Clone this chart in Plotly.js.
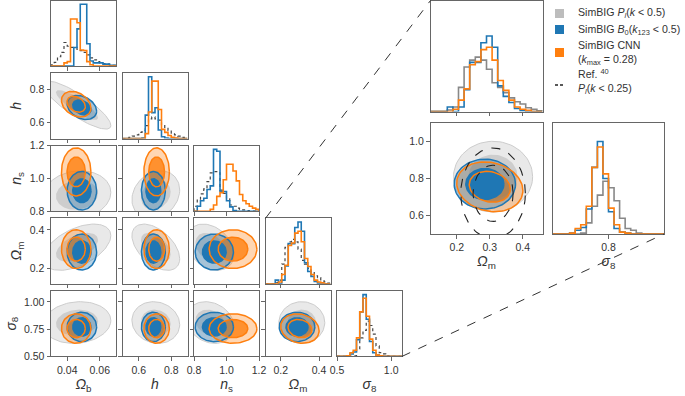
<!DOCTYPE html>
<html><head><meta charset="utf-8">
<script src="https://cdn.plot.ly/plotly-3.0.1.min.js"></script>
<style>html,body{margin:0;padding:0;background:#fff;} #chart{width:685px;height:396px;}</style>
</head><body><div id="chart"></div>
<script>
// ---------------- data ----------------
const paramTitles = ["<i>Ω</i><sub>b</sub>", "<i>h</i>", "<i>n</i><sub>s</sub>", "<i>Ω</i><sub>m</sub>", "<i>σ</i><sub>8</sub>"];
const paramRanges = [[0.03,0.07],[0.5,0.9],[0.8,1.2],[0.12,0.46],[0.5,1.1]];
const xTickVals = [[0.04,0.06],[0.6,0.8],[0.8,1.0,1.2],[0.2,0.4],[0.5,1.0]];
const xTickText = [["0.04","0.06"],["0.6","0.8"],["0.8","1.0","1.2"],["0.2","0.4"],["0.5","1.0"]];
const yTickVals = [[],[0.6,0.8],[0.8,1.0,1.2],[0.2,0.4],[0.5,0.75,1.0]];
const yTickText = [[],["0.6","0.8"],["0.8","1.0","1.2"],["0.2","0.4"],["0.50","0.75","1.00"]];
const insetOmXTicks = [0.2,0.3,0.4], insetOmXText = ["0.2","0.3","0.4"];
const insetS8YTicks = [0.6,0.8,1.0], insetS8YText = ["0.6","0.8","1.0"];
const insetS8XTicks = [0.8], insetS8XText = ["0.8"];

const seriesNames = [
  "SimBIG <i>P</i><sub><i>l</i></sub>(<i>k</i> &lt; 0.5)",
  "SimBIG <i>B</i><sub>0</sub>(<i>k</i><sub>123</sub> &lt; 0.5)",
  "SimBIG CNN<br>(<i>k</i><sub>max</sub> = 0.28)",
  "Ref. <sup>40</sup><br><i>P</i><sub><i>l</i></sub>(<i>k</i> &lt; 0.25)"
];

// Gaussian summaries of the posteriors (mean, sigma, correlation) per parameter
const grayMean  = [0.046, 0.705, 0.90, 0.31, 0.81];
const graySigma = [0.0085, 0.06, 0.06, 0.049, 0.078];
const grayCorr  = [
  [1, -0.85, 0.1, 0.5, 0.1],
  [-0.85, 1, 0.2, -0.5, -0.1],
  [0.1, 0.2, 1, -0.3, -0.2],
  [0.5, -0.5, -0.3, 1, 0.0],
  [0.1, -0.1, -0.2, 0.0, 1]];
const blueMean  = [0.049, 0.69, 0.925, 0.285, 0.77];
const blueSigma = [0.0037, 0.03, 0.048, 0.038, 0.055];
const blueCorr  = [
  [1, -0.3, 0, 0, 0],
  [-0.3, 1, 0, 0, 0],
  [0, 0, 1, 0, 0],
  [0, 0, 0, 1, 0],
  [0, 0, 0, 0, 1]];
const orangeMean  = [0.0455, 0.71, 1.04, 0.30, 0.755];
const orangeSigma = [0.0037, 0.032, 0.06, 0.041, 0.055];
const orangeCorr  = [
  [1, -0.3, 0, 0, 0],
  [-0.3, 1, 0, 0, 0],
  [0, 0, 1, 0, 0],
  [0, 0, 0, 1, -0.15],
  [0, 0, 0, -0.15, 1]];
const refMean  = [0.31, 0.72];   // Omega_m, sigma_8
const refSigma = [0.04, 0.10];
const refCorr  = 0.0;
const contourLevels = [1.52, 2.45]; // 68% and 95% radii

// 1D histograms (20 bins over each parameter range), heights relative to blue peak
const grayHist = [
  [0.02,0.06,0.15,0.22,0.38,0.32,0.3,0.3,0.27,0.25,0.22,0.18,0.13,0.1,0.07,0.05,0.04,0.03,0.02,0.01],
  [0,0.01,0.02,0.04,0.06,0.1,0.13,0.21,0.32,0.35,0.32,0.3,0.22,0.18,0.13,0.09,0.06,0.04,0.02,0.01],
  [0.08,0.18,0.28,0.36,0.48,0.62,0.64,0.62,0.34,0.29,0.2,0.1,0.08,0.05,0.03,0.02,0.01,0,0,0],
  [0,0,0,0.02,0.06,0.32,0.59,0.68,0.72,0.68,0.56,0.38,0.32,0.25,0.18,0.13,0.1,0.05,0.03,0.01],
  [0,0,0,0,0,0.01,0.12,0.3,0.42,0.57,0.5,0.36,0.17,0.06,0.04,0.01,0,0,0,0]];
const blueHist = [
  [0,0,0,0,0,0,0,0.3,0.6,1.0,1.0,0.36,0.08,0.05,0.05,0.05,0.03,0.03,0.01,0.01],
  [0,0,0,0,0,0,0.01,0.38,1.0,0.42,0.5,0.14,0.03,0.01,0,0,0,0,0,0],
  [0,0.08,0.17,0.21,0.35,0.41,1.0,0.97,0.32,0.32,0.17,0.07,0.01,0,0,0,0,0,0,0],
  [0,0,0,0.06,0,0.06,0.29,0.65,0.65,0.91,1.0,0.85,0.34,0.2,0.12,0.04,0.01,0,0,0],
  [0,0,0,0.01,0.04,0.07,0.27,0.72,1.0,0.6,0.24,0.06,0.02,0.01,0,0,0,0,0,0]];
const orangeHist = [
  [0,0,0,0,0.05,0.07,0.76,0.76,0.7,0.26,0.25,0.07,0.02,0,0,0,0,0,0,0],
  [0,0,0,0,0,0,0,0.08,0.43,0.93,0.93,0.47,0.15,0.1,0.05,0.02,0.01,0,0,0],
  [0,0,0,0,0,0.03,0.1,0.24,0.3,0.51,0.76,0.76,0.65,0.49,0.27,0.17,0.12,0.08,0.05,0.03],
  [0,0,0,0,0.03,0.15,0.3,0.62,0.66,0.82,0.85,0.68,0.41,0.28,0.15,0.06,0.03,0.015,0,0],
  [0,0,0,0.01,0.06,0.1,0.3,0.72,0.94,0.65,0.28,0.1,0.02,0.01,0,0,0,0,0,0]];

// ---------------- layout geometry (px) ----------------
const W = 685, H = 396;
const colLeft = j => 51 + 71.5*j, colW = 65;
const rowTop = i => 0.5 + 72.6*i, rowH = 65.5;
const insetBoxes = {
  omHist: [430.5, 0.5, 112, 111],
  twoD:   [430.5, 123, 112, 111],
  s8Hist: [553, 123, 111, 111]
};
const mainHistTop = 1.06, insetOmHistTop = 1.47, insetS8HistTop = 1.2;
// custom legend placement (px)
const legSymX = [555, 564], legTextX = 576;
const legRowY = [13.5, 29.5, 52.5, 81.5];
const legSymY = [13.5, 29.5, 52.5, 85];

const C = {gray:'#bdbdbd', blue:'#1f77b4', orange:'#ff7f0e', frame:'#666666', text:'#333333'};
const FONT = 'Liberation Sans, Arial, sans-serif';

const traces = [];
const layout = {
  width: W, height: H, margin:{l:0,r:0,t:0,b:0},
  paper_bgcolor:'#fff', plot_bgcolor:'#fff',
  font:{family:FONT, color:C.text, size:11},
  showlegend:false,
  shapes:[], annotations:[]
};

function ellipse(mx,my,sx,sy,rho,r){
  const xs=[], ys=[], n=90, s=Math.sqrt(1-rho*rho);
  for(let k=0;k<=n;k++){ const t=2*Math.PI*k/n;
    xs.push(mx + r*sx*Math.cos(t));
    ys.push(my + r*sy*(rho*Math.cos(t) + s*Math.sin(t))); }
  return [xs,ys];
}
function stepXY(hist, range){
  const n = hist.length, w = (range[1]-range[0])/n;
  const xs=[range[0]], ys=[0];
  for(let k=0;k<n;k++){ xs.push(range[0]+k*w); ys.push(hist[k]); }
  xs.push(range[1]); ys.push(0);
  return [xs,ys];
}
function baseAxis(){
  return {showgrid:false, zeroline:false, showline:true, mirror:true, linecolor:C.frame, linewidth:1,
    ticks:'outside', ticklen:3.5, tickwidth:1, tickcolor:C.frame,
    tickfont:{size:10.5, color:C.text, family:FONT}, fixedrange:true, automargin:false};
}
let axCount = 0;
function addPanel(box, xr, yr){
  axCount++;
  const id = axCount===1 ? '' : String(axCount);
  const [x0,y0,w,h] = box;
  const xa = baseAxis(), ya = baseAxis();
  xa.domain=[x0/W,(x0+w)/W]; ya.domain=[1-(y0+h)/H, 1-y0/H];
  xa.range=xr; ya.range=yr; xa.anchor='y'+id; ya.anchor='x'+id;
  layout['xaxis'+id]=xa; layout['yaxis'+id]=ya;
  return {xref:'x'+id, yref:'y'+id, xa, ya};
}
function fillTrace(p, xy, fill, line, lw){
  traces.push({type:'scatter', mode:'lines', x:xy[0], y:xy[1], xaxis:p.xref, yaxis:p.yref,
    fill:'toself', fillcolor:fill, line:{color:line, width:lw}, hoverinfo:'skip', showlegend:false});
}
function lineTrace(p, xy, color, lw, dash, shape){
  traces.push({type:'scatter', mode:'lines', x:xy[0], y:xy[1], xaxis:p.xref, yaxis:p.yref,
    line:{color:color, width:lw, dash:dash||'solid', shape:shape||'linear'}, hoverinfo:'skip', showlegend:false});
}
function draw2D(p, a, b, withRef){
  const L0 = contourLevels[0], L1 = contourLevels[1];
  const g = r => ellipse(grayMean[a],grayMean[b],graySigma[a],graySigma[b],grayCorr[a][b],r);
  const bl = r => ellipse(blueMean[a],blueMean[b],blueSigma[a],blueSigma[b],blueCorr[a][b],r);
  const o = r => ellipse(orangeMean[a],orangeMean[b],orangeSigma[a],orangeSigma[b],orangeCorr[a][b],r);
  fillTrace(p, g(L1), '#e9e9e9', '#cccccc', 1);
  fillTrace(p, g(L0), '#cdcdcd', 'rgba(0,0,0,0)', 0);
  fillTrace(p, o(L1), 'rgba(255,127,14,0.32)', 'rgba(0,0,0,0)', 0);
  fillTrace(p, o(L0), 'rgba(255,127,14,0.8)', 'rgba(0,0,0,0)', 0);
  fillTrace(p, bl(L1), 'rgba(31,119,180,0.33)', 'rgba(0,0,0,0)', 0);
  fillTrace(p, bl(L0), 'rgba(31,119,180,1)', 'rgba(0,0,0,0)', 0);
  lineTrace(p, bl(L1), C.blue, 1.5);
  lineTrace(p, bl(L0), C.blue, 1.5);
  lineTrace(p, o(L1), C.orange, 1.5);
  lineTrace(p, o(L0), C.orange, 1.5);
  if(withRef){
    lineTrace(p, ellipse(refMean[0],refMean[1],refSigma[0],refSigma[1],refCorr,L1), '#222', 1.1, 'dash');
    lineTrace(p, ellipse(refMean[0],refMean[1],refSigma[0],refSigma[1],refCorr,L0), '#222', 1.1, 'dash');
  }
}
function drawHist(p, a, grayDash, grayColor){
  lineTrace(p, stepXY(grayHist[a], paramRanges[a]), grayColor, grayDash==='dot'?1.2:1.6, grayDash, 'hv');
  lineTrace(p, stepXY(blueHist[a], paramRanges[a]), C.blue, 1.6, 'solid', 'hv');
  lineTrace(p, stepXY(orangeHist[a], paramRanges[a]), C.orange, 1.6, 'solid', 'hv');
}
function titleObj(t){ return {text:t, font:{size:14, color:C.text, family:FONT}, standoff:4}; }

// ---------------- main corner ----------------
for(let b=0;b<5;b++){
  for(let a=0;a<=b;a++){
    const box=[colLeft(a), rowTop(b), colW, rowH];
    if(a===b){
      const p = addPanel(box, paramRanges[a], [0, mainHistTop]);
      p.xa.tickvals = xTickVals[a]; p.xa.ticktext = xTickText[a];
      p.xa.showticklabels = (b===4);
      if(b===4) p.xa.title = titleObj(paramTitles[a]);
      p.ya.ticks=''; p.ya.showticklabels=false;
      drawHist(p, a, 'dot', '#444');
    } else {
      const p = addPanel(box, paramRanges[a], paramRanges[b]);
      p.xa.tickvals = xTickVals[a]; p.xa.ticktext = xTickText[a];
      p.xa.showticklabels = (b===4);
      if(b===4) p.xa.title = titleObj(paramTitles[a]);
      p.ya.tickvals = yTickVals[b]; p.ya.ticktext = yTickText[b];
      p.ya.showticklabels = (a===0);
      if(a===0) p.ya.title = titleObj(paramTitles[b]);
      draw2D(p, a, b, false);
    }
  }
}
// ---------------- inset ----------------
{
  const p = addPanel(insetBoxes.omHist, paramRanges[3], [0, insetOmHistTop]);
  p.xa.tickvals = insetOmXTicks; p.xa.showticklabels=false;
  p.ya.ticks=''; p.ya.showticklabels=false;
  drawHist(p, 3, 'solid', '#888888');
}
{
  const p = addPanel(insetBoxes.twoD, paramRanges[3], paramRanges[4]);
  p.xa.tickvals = insetOmXTicks; p.xa.ticktext = insetOmXText;
  p.ya.tickvals = insetS8YTicks; p.ya.ticktext = insetS8YText;
  p.xa.title = titleObj(paramTitles[3]);
  draw2D(p, 3, 4, true);
}
{
  const p = addPanel(insetBoxes.s8Hist, paramRanges[4], [0, insetS8HistTop]);
  p.xa.tickvals = insetS8XTicks; p.xa.ticktext = insetS8XText;
  p.ya.ticks=''; p.ya.showticklabels=false;
  p.xa.title = titleObj(paramTitles[4]);
  drawHist(p, 4, 'solid', '#888888');
}

// ---------------- connectors ----------------
const mOmLeft = colLeft(3), mOmTop = rowTop(3);
const mS8Right = colLeft(4)+colW, mS8Bottom = rowTop(4)+rowH;
layout.shapes.push({type:'line', xref:'paper', yref:'paper', x0:mOmLeft/W, y0:1-mOmTop/H,
  x1:insetBoxes.omHist[0]/W, y1:1-insetBoxes.omHist[1]/H, line:{color:'#333', width:1, dash:'dash'}});
layout.shapes.push({type:'line', xref:'paper', yref:'paper', x0:mS8Right/W, y0:1-mS8Bottom/H,
  x1:(insetBoxes.s8Hist[0]+insetBoxes.s8Hist[2])/W, y1:1-(insetBoxes.s8Hist[1]+insetBoxes.s8Hist[3])/H,
  line:{color:'#333', width:1, dash:'dash'}});

// ---------------- legend ----------------
const legendColors = [C.gray, C.blue, C.orange];
for(let s=0;s<4;s++){
  if(s<3){
    const half=(legSymX[1]-legSymX[0])/2;
    layout.shapes.push({type:'rect', xref:'paper', yref:'paper', x0:legSymX[0]/W, x1:legSymX[1]/W,
      y0:1-(legSymY[s]+half)/H, y1:1-(legSymY[s]-half)/H, fillcolor:legendColors[s], line:{width:0}});
  } else {
    layout.shapes.push({type:'line', xref:'paper', yref:'paper', x0:legSymX[0]/W, x1:legSymX[1]/W,
      y0:1-legSymY[s]/H, y1:1-legSymY[s]/H, line:{color:'#222', width:1.3, dash:'3px,2px'}});
  }
  layout.annotations.push({xref:'paper', yref:'paper', x:legTextX/W, y:1-legRowY[s]/H,
    xanchor:'left', yanchor:'middle', align:'left', showarrow:false, text:seriesNames[s],
    font:{size:10.6, color:C.text, family:FONT}});
}

Plotly.newPlot('chart', traces, layout, {staticPlot:true, displayModeBar:false});
</script>
</body></html>
